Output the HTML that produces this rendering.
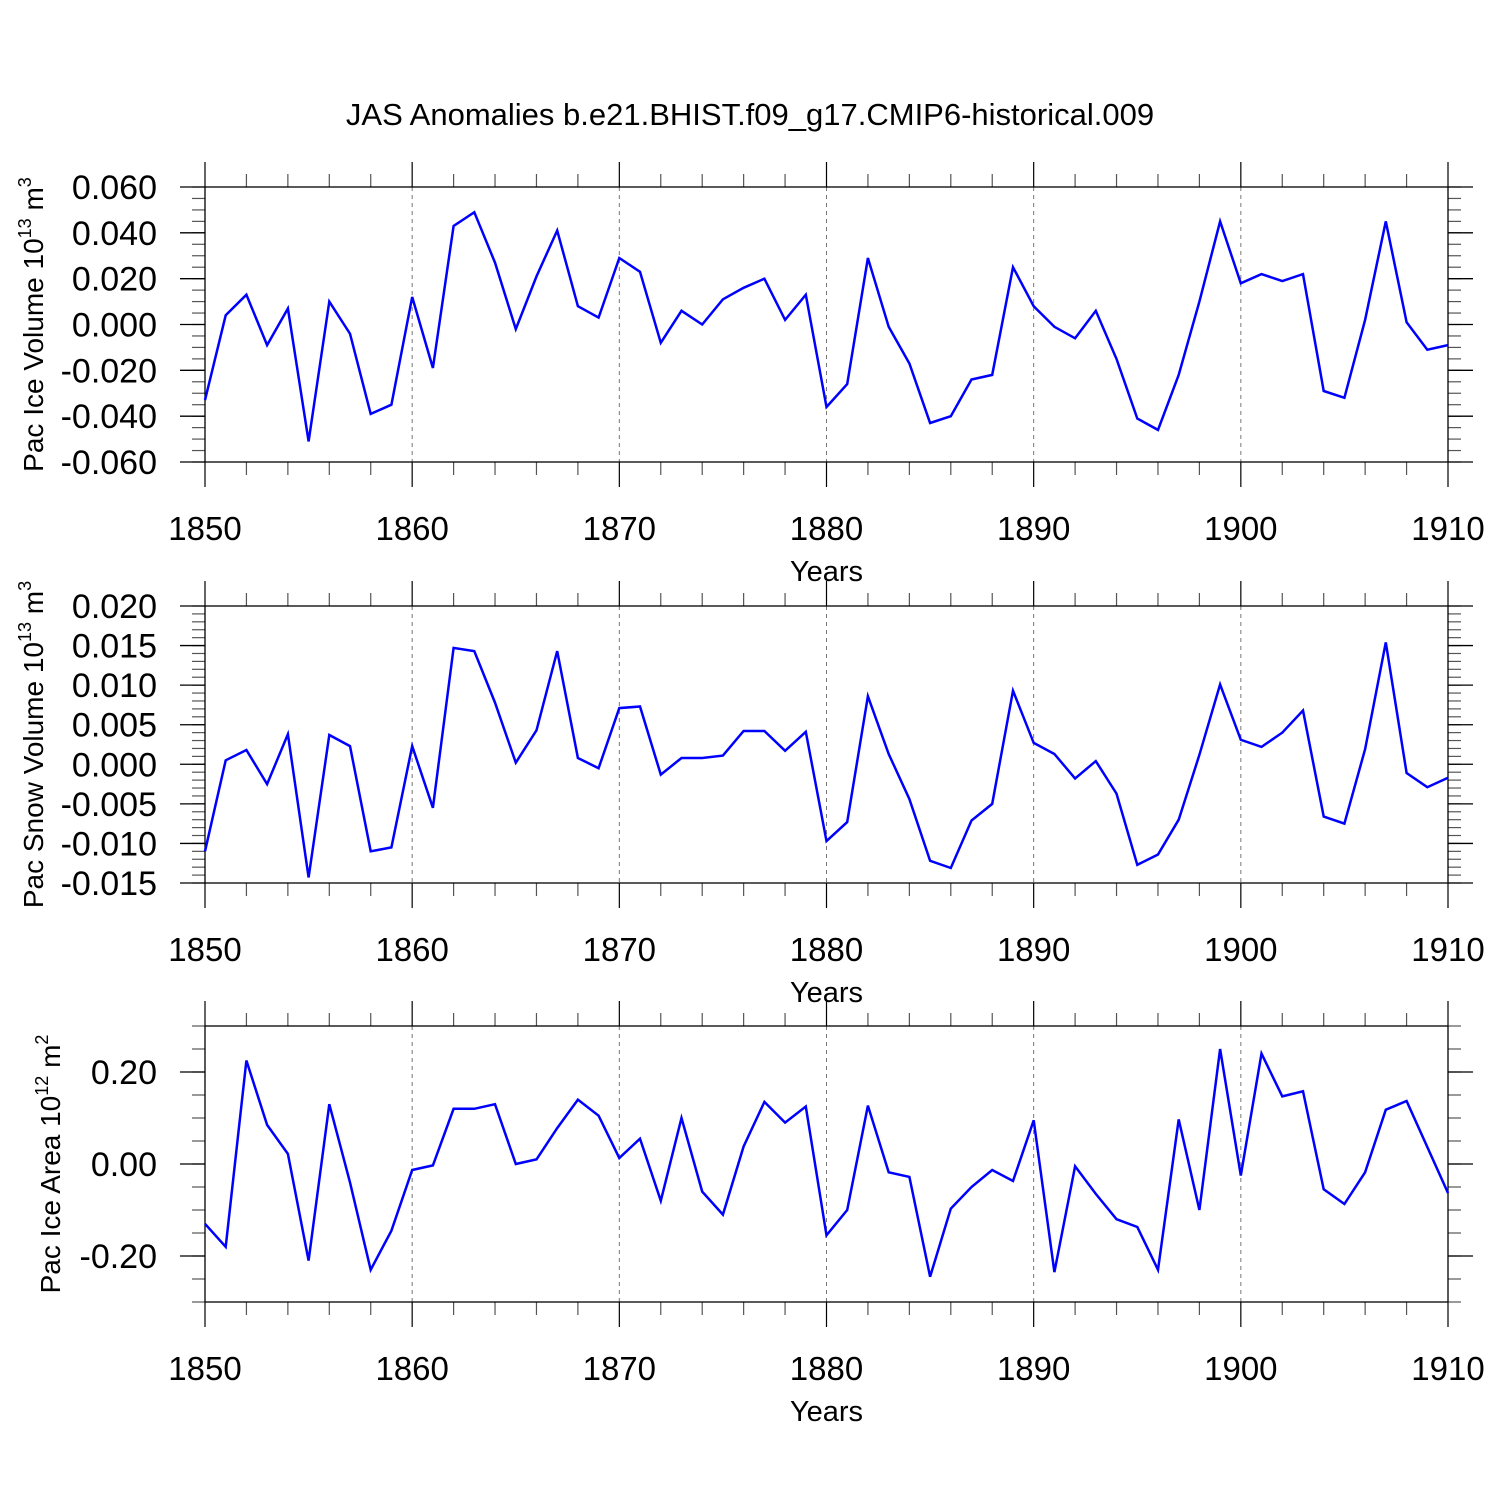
<!DOCTYPE html>
<html><head><meta charset="utf-8"><style>
html,body{margin:0;padding:0;background:#fff;}
svg{display:block;font-family:"Liberation Sans",sans-serif;}
</style></head><body>
<svg id="chart" width="1500" height="1500" viewBox="0 0 1500 1500" xmlns="http://www.w3.org/2000/svg">
<text x="750" y="125" text-anchor="middle" font-size="31">JAS Anomalies b.e21.BHIST.f09_g17.CMIP6-historical.009</text>
</svg>
<script>
const years = [];
for (let y = 1850; y <= 1910; y++) years.push(y);
const xTicks = [1850, 1860, 1870, 1880, 1890, 1900, 1910];
const iceVolume = [-0.033,0.004,0.013,-0.009,0.007,-0.051,0.010,-0.004,-0.039,-0.035,0.012,-0.019,0.043,0.049,0.027,-0.002,0.021,0.041,0.008,0.003,0.029,0.023,-0.008,0.006,0.000,0.011,0.016,0.020,0.002,0.013,-0.036,-0.026,0.029,-0.001,-0.017,-0.043,-0.040,-0.024,-0.022,0.025,0.008,-0.001,-0.006,0.006,-0.015,-0.041,-0.046,-0.022,0.010,0.045,0.018,0.022,0.019,0.022,-0.029,-0.032,0.002,0.045,0.001,-0.011,-0.009];
const snowVolume = [-0.011,0.0005,0.0018,-0.0025,0.0038,-0.0143,0.0037,0.0023,-0.011,-0.0105,0.0023,-0.0055,0.0147,0.0143,0.0078,0.0002,0.0043,0.0143,0.0008,-0.0005,0.0071,0.0073,-0.0013,0.0008,0.0008,0.0011,0.0042,0.0042,0.0017,0.0041,-0.0097,-0.0073,0.0086,0.0013,-0.0044,-0.0122,-0.0131,-0.0071,-0.0050,0.0093,0.0027,0.0013,-0.0018,0.0004,-0.0037,-0.0127,-0.0114,-0.0070,0.0012,0.0101,0.0031,0.0022,0.0040,0.0068,-0.0066,-0.0075,0.0019,0.0154,-0.0011,-0.0029,-0.0017];
const iceArea = [-0.13,-0.18,0.225,0.085,0.022,-0.21,0.13,-0.04,-0.23,-0.145,-0.013,-0.003,0.12,0.12,0.13,0.0,0.01,0.078,0.14,0.105,0.013,0.055,-0.08,0.10,-0.06,-0.11,0.038,0.135,0.09,0.125,-0.155,-0.10,0.127,-0.018,-0.028,-0.245,-0.097,-0.05,-0.013,-0.037,0.095,-0.235,-0.005,-0.065,-0.12,-0.137,-0.23,0.097,-0.10,0.25,-0.025,0.24,0.147,0.158,-0.055,-0.087,-0.018,0.118,0.137,0.037,-0.063];
const volTicks = ["0.060","0.040","0.020","0.000","-0.020","-0.040","-0.060"];
const snowTicks = ["0.020","0.015","0.010","0.005","0.000","-0.005","-0.010","-0.015"];
const areaTicks = ["0.20","0.00","-0.20"];

const NS = "http://www.w3.org/2000/svg";
const svg = document.getElementById('chart');
function el(tag, attrs, parent){ const e=document.createElementNS(NS,tag); for(const k in attrs) e.setAttribute(k,attrs[k]); (parent||svg).appendChild(e); return e; }

const X0=205, X1=1448;
function xs(yr){ return X0 + (yr-1850)/60*(X1-X0); }

const panels = [
 {name:'ice-volume', top:187, bot:462, ymin:-0.06, ymax:0.06, data:iceVolume, ticks:volTicks, minor:0.005, tx:43, title:'Pac Ice Volume 10', sup1:'13', unit:' m', sup2:'3'},
 {name:'snow-volume', top:606, bot:883, ymin:-0.015, ymax:0.02, data:snowVolume, ticks:snowTicks, minor:0.001, tx:43, title:'Pac Snow Volume 10', sup1:'13', unit:' m', sup2:'3'},
 {name:'ice-area', top:1026, bot:1302, ymin:-0.3, ymax:0.3, data:iceArea, ticks:areaTicks, minor:0.05, tx:60, title:'Pac Ice Area 10', sup1:'12', unit:' m', sup2:'2'}
];

panels.forEach(p=>{
  const g = el('g',{});
  
  
  const ys = v => p.bot - (v-p.ymin)/(p.ymax-p.ymin)*(p.bot-p.top);
  xTicks.slice(1,-1).forEach(t=>{
    const l=el('line',{x1:xs(t),x2:xs(t),y1:p.top,y2:p.bot,stroke:'#777','stroke-width':1,'stroke-dasharray':'4,4'},g);
    
    
  });
  for(let yr=1850; yr<=1910; yr+=2){
    const major = (yr-1850)%10===0;
    const len = major?25:13;
    el('line',{x1:xs(yr),x2:xs(yr),y1:p.top-len,y2:p.top,stroke:major?'#000':'#555','stroke-width':1.2},g);
    el('line',{x1:xs(yr),x2:xs(yr),y1:p.bot,y2:p.bot+len,stroke:major?'#000':'#555','stroke-width':1.2},g);
  }
  const n = Math.round((p.ymax-p.ymin)/p.minor);
  for(let i=0;i<=n;i++){
    const v=p.ymin+i*p.minor, y=ys(v);
    el('line',{x1:X0-13,x2:X0,y1:y,y2:y,stroke:'#555','stroke-width':1.2},g);
    el('line',{x1:X1,x2:X1+13,y1:y,y2:y,stroke:'#555','stroke-width':1.2},g);
  }
  p.ticks.forEach(t=>{
    const y=ys(parseFloat(t));
    el('line',{x1:X0-25,x2:X0,y1:y,y2:y,stroke:'#000','stroke-width':1.3},g);
    el('line',{x1:X1,x2:X1+25,y1:y,y2:y,stroke:'#000','stroke-width':1.3},g);
    const tx=el('text',{x:157,y:y+12,'text-anchor':'end','font-size':34},g);
    tx.textContent=t;
    
    
  });
  const fr=el('rect',{x:X0,y:p.top,width:X1-X0,height:p.bot-p.top,fill:'none',stroke:'#000','stroke-width':1.3},g);
  
  
  xTicks.forEach(t=>{
    const tx=el('text',{x:xs(t),y:p.bot+78,'text-anchor':'middle','font-size':33},g);
    tx.textContent=t;
    
    
  });
  const xt=el('text',{x:(X0+X1)/2,y:p.bot+119,'text-anchor':'middle','font-size':29},g);
  xt.textContent='Years';
  
  
  const cy=(p.top+p.bot)/2;
  const yt=el('text',{transform:`translate(${p.tx},${cy}) rotate(-90)`,'text-anchor':'middle','font-size':28},g);
  
  
  const a=el('tspan',{},yt); a.textContent=p.title;
  const b=el('tspan',{dy:-12,'font-size':18},yt); b.textContent=p.sup1;
  const c=el('tspan',{dy:12},yt); c.textContent=p.unit;
  const d=el('tspan',{dy:-12,'font-size':18},yt); d.textContent=p.sup2;
  const pts=p.data.map((v,i)=>xs(years[i]).toFixed(1)+','+ys(v).toFixed(1)).join(' ');
  const pl=el('polyline',{points:pts,fill:'none',stroke:'#0000ff','stroke-width':2.5,'stroke-linejoin':'miter'},g);
  
  
});
</script>
</body></html>
